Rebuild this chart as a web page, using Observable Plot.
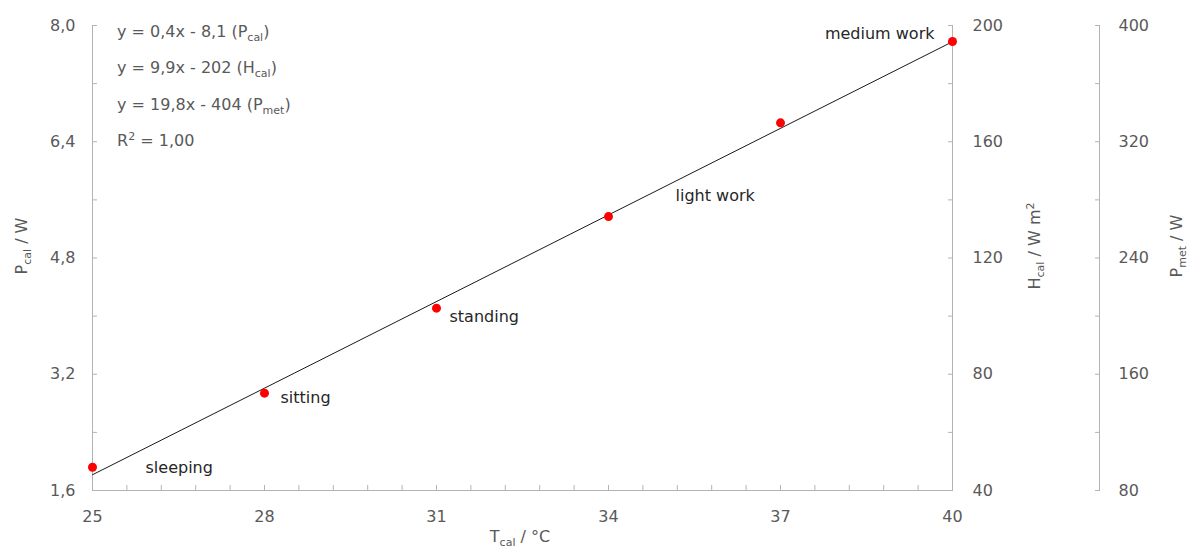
<!DOCTYPE html>
<html><head><meta charset="utf-8">
<script src="https://cdn.jsdelivr.net/npm/d3@7"></script>
<script src="https://cdn.jsdelivr.net/npm/@observablehq/plot@0.6"></script>
<style>html,body{margin:0;padding:0;background:#fff;} #chart{width:1188px;height:551px;overflow:hidden;}</style>
</head><body><div id="chart"></div>
<script>
// ---- data ----
const tcal = [25, 28, 31, 34, 37, 40];
const pcal = [1.92, 2.94, 4.11, 5.37, 6.66, 7.78];
const activity = ["sleeping", "sitting", "standing", "light work", "", "medium work"];
const xTicks = [25, 28, 31, 34, 37, 40];
const xMinorTicks = [25, 25.6, 26.2, 26.8, 27.4, 28, 28.6, 29.2, 29.8, 30.4, 31, 31.6, 32.2, 32.8, 33.4, 34, 34.6, 35.2, 35.8, 36.4, 37, 37.6, 38.2, 38.8, 39.4, 40];
const pTicks = [1.6, 3.2, 4.8, 6.4, 8.0];
const pMinorTicks = [1.6, 2.4, 3.2, 4.0, 4.8, 5.6, 6.4, 7.2, 8.0];
const hTicks = [40, 80, 120, 160, 200];
const hMinorTicks = [40, 60, 80, 100, 120, 140, 160, 180, 200];
const metTicks = [80, 160, 240, 320, 400];
const metMinorTicks = [80, 120, 160, 200, 240, 280, 320, 360, 400];
const hPerP = 25;   // H_cal axis = 25 x P_cal
const metPerP = 50; // P_met axis = 50 x P_cal
const equations = [
  [["y = 0,4x - 8,1 (P"], ["cal", "sub"], [")"]],
  [["y = 9,9x - 202 (H"], ["cal", "sub"], [")"]],
  [["y = 19,8x - 404 (P"], ["met", "sub"], [")"]],
  [["R"], ["2", "sup"], [" = 1,00"]]
];
const yTitle = [["P"], ["cal", "sub"], [" / W"]];
const hTitle = [["H"], ["cal", "sub"], [" / W m"], ["2", "sup"]];
const metTitle = [["P"], ["met", "sub"], [" / W"]];
const xTitle = [["T"], ["cal", "sub"], [" / °C"]];

// ---- chart ----
const rows = tcal.map((t, i) => ({t, p: pcal[i], label: activity[i]}));
const axisColor = "#b3b3b3";
const tickText = "#595959";
const font = "DejaVu Sans";
const near = (arr, v) => arr.find(a => Math.abs(a - v) < 1e-6);
const comma1 = d => d.toFixed(1).replace(".", ",");

const labelOffsets = {
  "sleeping": {dx: 53, dy: 1, textAnchor: "start"},
  "sitting": {dx: 16, dy: 5, textAnchor: "start"},
  "standing": {dx: 13, dy: 9, textAnchor: "start"},
  "light work": {dx: 67, dy: -21, textAnchor: "start"},
  "medium work": {dx: -18, dy: -8, textAnchor: "end"}
};

const labelMarks = rows.filter(r => r.label).map(r =>
  Plot.text([r], {x: "t", y: "p", text: "label", fill: "#262626", fontSize: 16, ...labelOffsets[r.label]})
);

const plot = Plot.plot({
  width: 1188, height: 551,
  marginLeft: 92, marginRight: 236, marginTop: 25, marginBottom: 61,
  style: {fontFamily: font, fontSize: "16px", background: "#fff", color: tickText, overflow: "visible"},
  x: {domain: [25, 40]},
  y: {domain: [1.6, 8.0]},
  marks: [
    Plot.ruleX([25], {stroke: axisColor}),
    Plot.ruleX([40], {stroke: axisColor}),
    Plot.ruleX([40], {stroke: axisColor, dx: 147}),
    Plot.ruleY([1.6], {stroke: axisColor}),
    Plot.axisX(xMinorTicks, {tickSize: -5, tickPadding: 25, stroke: axisColor, fill: tickText,
      tickFormat: d => { const m = near(xTicks, d); return m === undefined ? "" : String(m); }, label: null}),
    Plot.axisY(pMinorTicks, {anchor: "left", tickSize: -5, tickPadding: 22, stroke: axisColor, fill: tickText,
      tickFormat: d => { const m = near(pTicks, d); return m === undefined ? "" : comma1(m); }, label: null}),
    Plot.axisY(hMinorTicks.map(h => h / hPerP), {anchor: "right", tickSize: -5, tickPadding: 25, stroke: axisColor, fill: tickText,
      tickFormat: d => { const m = near(hTicks, d * hPerP); return m === undefined ? "" : String(m); }, label: null}),
    Plot.axisY(metMinorTicks.map(m => m / metPerP), {anchor: "right", dx: 147, tickSize: -5, tickPadding: 24, stroke: axisColor, fill: tickText,
      tickFormat: d => { const m = near(metTicks, d * metPerP); return m === undefined ? "" : String(m); }, label: null}),
    Plot.linearRegressionY(rows, {x: "t", y: "p", stroke: "#1a1a1a", strokeWidth: 1, ci: 0}),
    Plot.dot(rows, {x: "t", y: "p", r: 4.5, fill: "#ff0000", stroke: null}),
    ...labelMarks
  ]
});
document.getElementById("chart").appendChild(plot);

// ---- rich text (subscripts / superscripts) ----
const svg = d3.select(plot);
function rich(parts, attrs) {
  const t = svg.append("text").attr("font-family", font).attr("font-size", 16).attr("fill", tickText)
    .attr("text-anchor", "start");
  for (const [k, v] of Object.entries(attrs)) t.attr(k, v);
  let shift = 0;
  for (const [s, kind] of parts) {
    const target = kind === "sub" ? 4 : kind === "sup" ? -6 : 0;
    const ts = t.append("tspan").text(s).attr("dy", target - shift);
    if (kind) ts.attr("font-size", 11);
    shift = target;
  }
  return t;
}
const eqY = [37, 73, 110, 146];
equations.forEach((eq, i) => rich(eq, {x: 117, y: eqY[i]}));
rich(yTitle, {transform: "translate(27,246) rotate(-90)", "text-anchor": "middle"});
rich(hTitle, {transform: "translate(1040,246) rotate(-90)", "text-anchor": "middle"});
rich(metTitle, {transform: "translate(1182,246) rotate(-90)", "text-anchor": "middle"});
rich(xTitle, {x: 520, y: 542, "text-anchor": "middle"});
</script></body></html>
